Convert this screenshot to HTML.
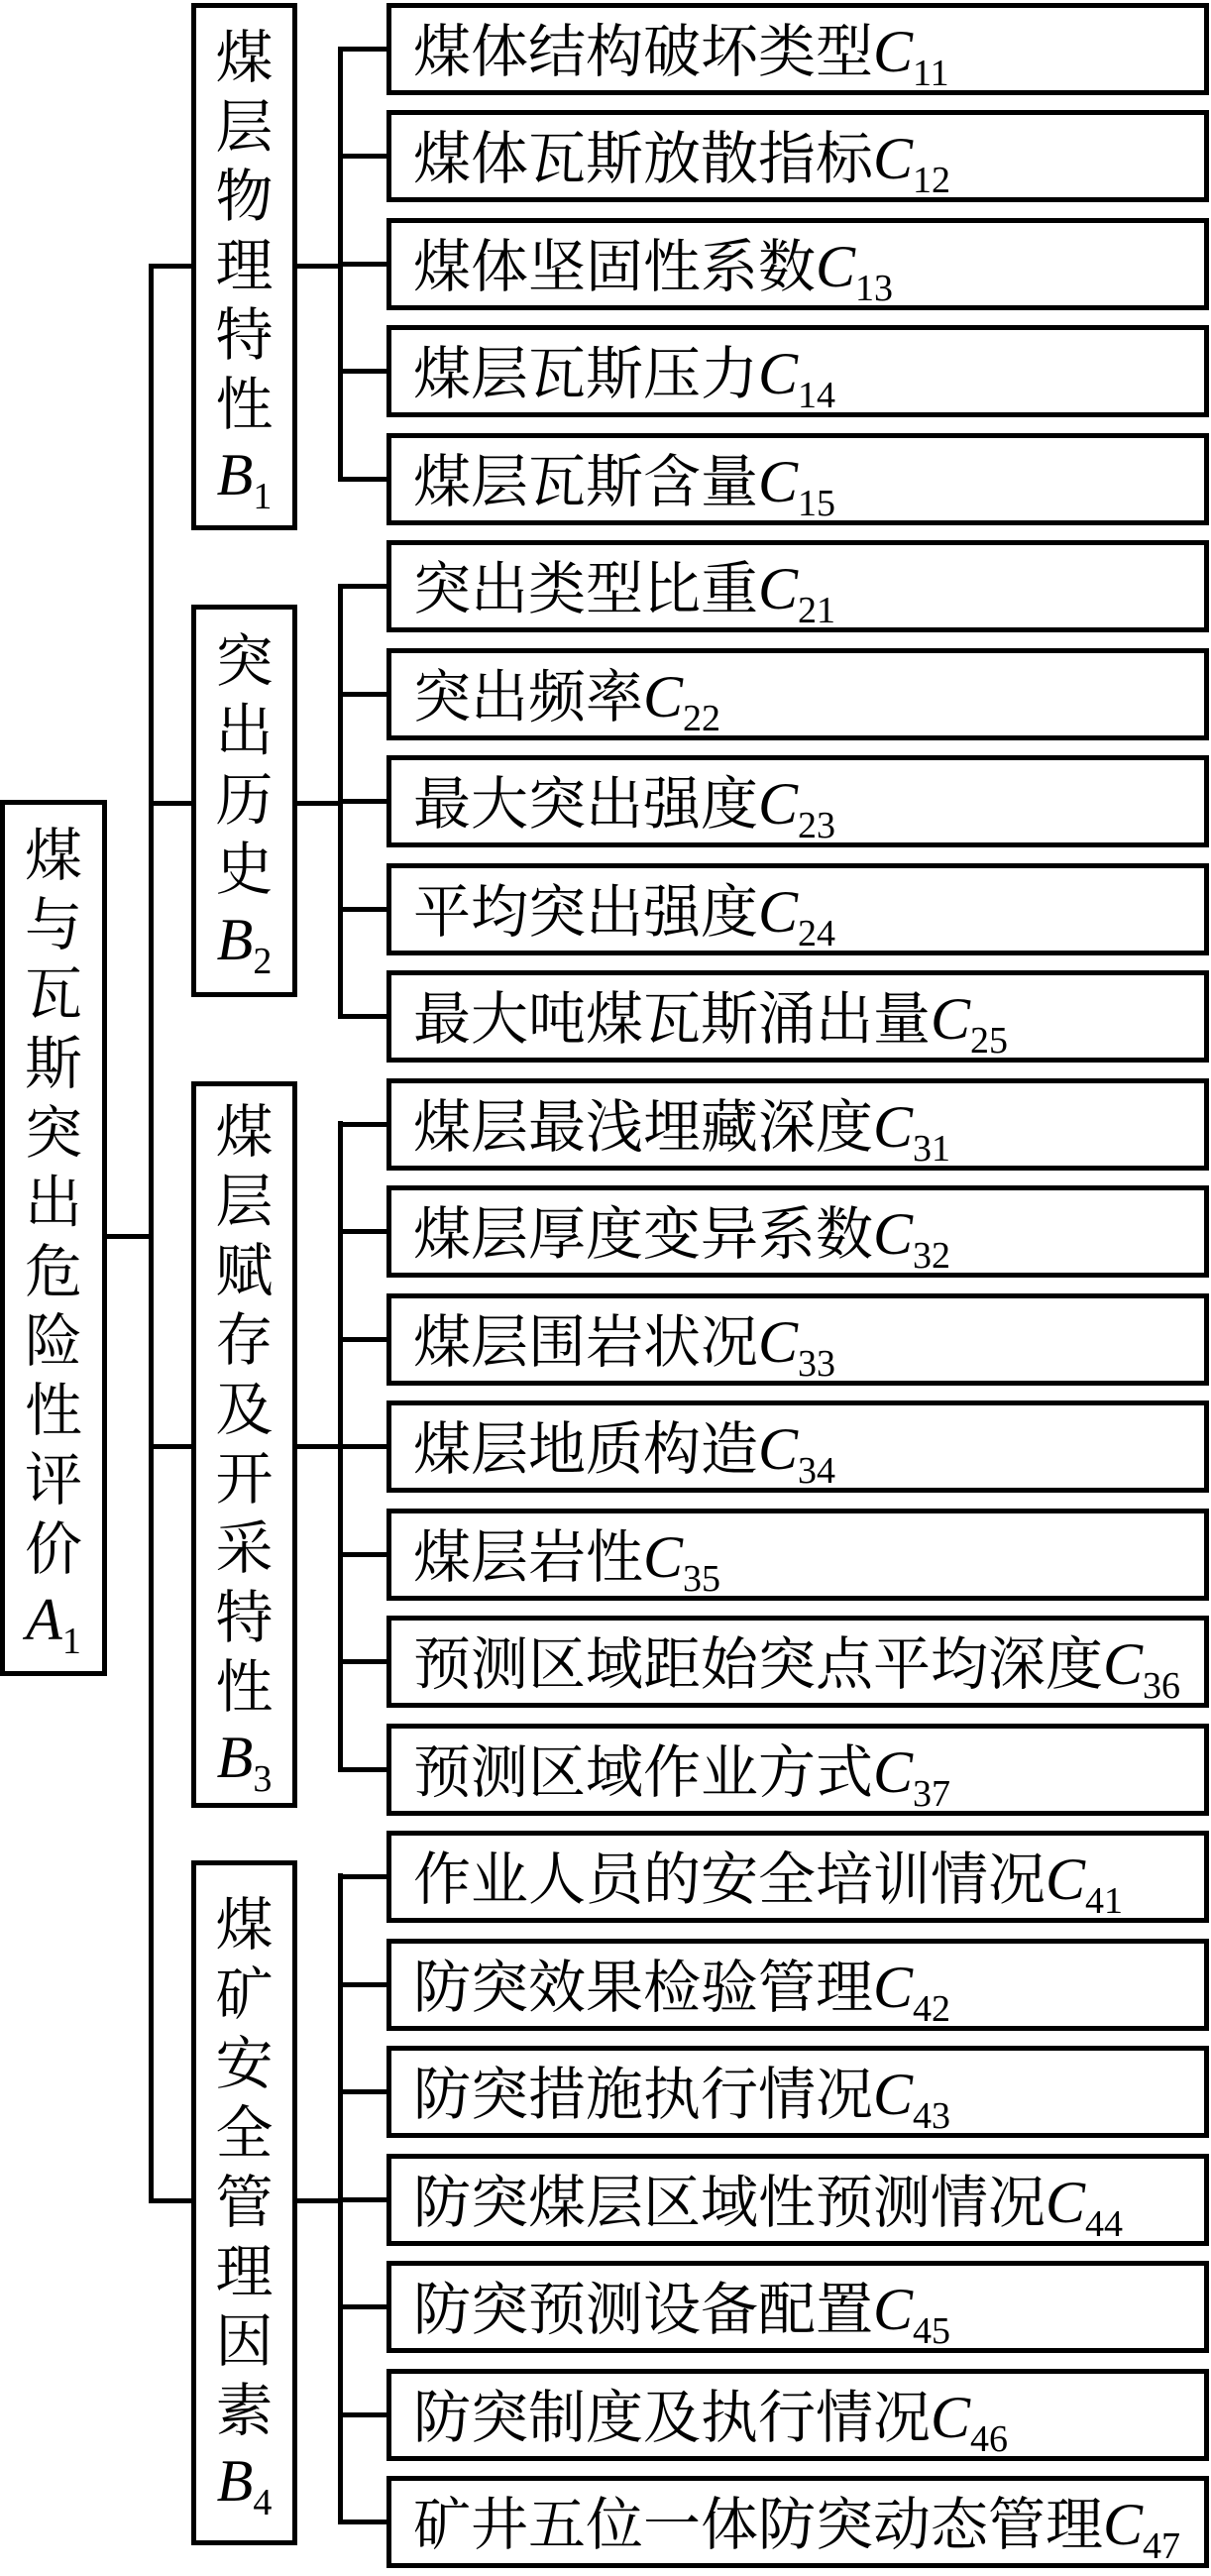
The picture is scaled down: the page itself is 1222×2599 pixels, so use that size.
<!DOCTYPE html>
<html><head><meta charset="utf-8">
<style>
html,body{margin:0;padding:0;background:#fff;}
body{width:1222px;height:2599px;position:relative;overflow:hidden;font-family:"Liberation Serif","Noto Serif CJK SC","Noto Sans CJK SC",serif;color:#000;}
.box{position:absolute;box-sizing:border-box;border:5px solid #000;background:#fff;}
.c{left:390px;width:830px;height:93px;}
.c span.t{position:absolute;left:22px;top:14px;font-size:58px;line-height:60px;white-space:nowrap;letter-spacing:0px;}
i{font-family:"Liberation Serif",serif;font-style:italic;font-size:60px;}
sub{font-family:"Liberation Serif",serif;font-size:38px;font-style:normal;vertical-align:-14px;line-height:0;}
.v{display:flex;flex-direction:column;align-items:center;justify-content:center;font-size:58px;line-height:70px;}
.v div{height:70px;}
.ln{position:absolute;background:#000;}
</style></head><body>

<!-- A box -->
<div class="box v" style="left:0;top:807px;width:108px;height:884px;">
<div>煤</div><div>与</div><div>瓦</div><div>斯</div><div>突</div><div>出</div><div>危</div><div>险</div><div>性</div><div>评</div><div>价</div><div><i>A</i><sub>1</sub></div>
</div>
<!-- main line -->
<div class="ln" style="left:108px;top:1245px;width:47px;height:5px;"></div>
<div class="ln" style="left:150px;top:266px;width:5px;height:1957px;"></div>
<div class="ln" style="left:150px;top:266px;width:45px;height:5px;"></div>
<div class="ln" style="left:150px;top:808px;width:45px;height:5px;"></div>
<div class="ln" style="left:150px;top:1457px;width:45px;height:5px;"></div>
<div class="ln" style="left:150px;top:2218px;width:45px;height:5px;"></div>

<!-- B boxes -->
<div class="box v" style="left:193px;top:3px;width:107px;height:532px;">
<div>煤</div><div>层</div><div>物</div><div>理</div><div>特</div><div>性</div><div><i>B</i><sub>1</sub></div></div>
<div class="box v" style="left:193px;top:610px;width:107px;height:396px;">
<div>突</div><div>出</div><div>历</div><div>史</div><div><i>B</i><sub>2</sub></div></div>
<div class="box v" style="left:193px;top:1091px;width:107px;height:733px;">
<div>煤</div><div>层</div><div>赋</div><div>存</div><div>及</div><div>开</div><div>采</div><div>特</div><div>性</div><div><i>B</i><sub>3</sub></div></div>
<div class="box v" style="left:193px;top:1877px;width:107px;height:691px;">
<div>煤</div><div>矿</div><div>安</div><div>全</div><div>管</div><div>理</div><div>因</div><div>素</div><div><i>B</i><sub>4</sub></div></div>

<!-- brackets -->
<div class="ln" style="left:300px;top:266px;width:45px;height:5px;"></div>
<div class="ln" style="left:341px;top:47px;width:5px;height:439px;"></div>
<div class="ln" style="left:300px;top:808px;width:45px;height:5px;"></div>
<div class="ln" style="left:341px;top:589px;width:5px;height:439px;"></div>
<div class="ln" style="left:300px;top:1457px;width:45px;height:5px;"></div>
<div class="ln" style="left:341px;top:1131px;width:5px;height:656px;"></div>
<div class="ln" style="left:300px;top:2218px;width:45px;height:5px;"></div>
<div class="ln" style="left:341px;top:1890px;width:5px;height:656px;"></div>

<div id="cs"></div>
<script>
var L=[["煤体结构破坏类型","11"],["煤体瓦斯放散指标","12"],["煤体坚固性系数","13"],["煤层瓦斯压力","14"],["煤层瓦斯含量","15"],
["突出类型比重","21"],["突出频率","22"],["最大突出强度","23"],["平均突出强度","24"],["最大吨煤瓦斯涌出量","25"],
["煤层最浅埋藏深度","31"],["煤层厚度变异系数","32"],["煤层围岩状况","33"],["煤层地质构造","34"],["煤层岩性","35"],["预测区域距始突点平均深度","36"],["预测区域作业方式","37"],
["作业人员的安全培训情况","41"],["防突效果检验管理","42"],["防突措施执行情况","43"],["防突煤层区域性预测情况","44"],["防突预测设备配置","45"],["防突制度及执行情况","46"],["矿井五位一体防突动态管理","47"]];
var h="";
for(var k=0;k<L.length;k++){var t=Math.round(3+k*108.48);
h+='<div class="ln" style="left:341px;top:'+(t+44)+'px;width:50px;height:5px;"></div>';
h+='<div class="box c" style="top:'+t+'px;"><span class="t">'+L[k][0]+'<i>C</i><sub>'+L[k][1]+'</sub></span></div>';}
document.getElementById("cs").innerHTML=h;
</script>
</body></html>
